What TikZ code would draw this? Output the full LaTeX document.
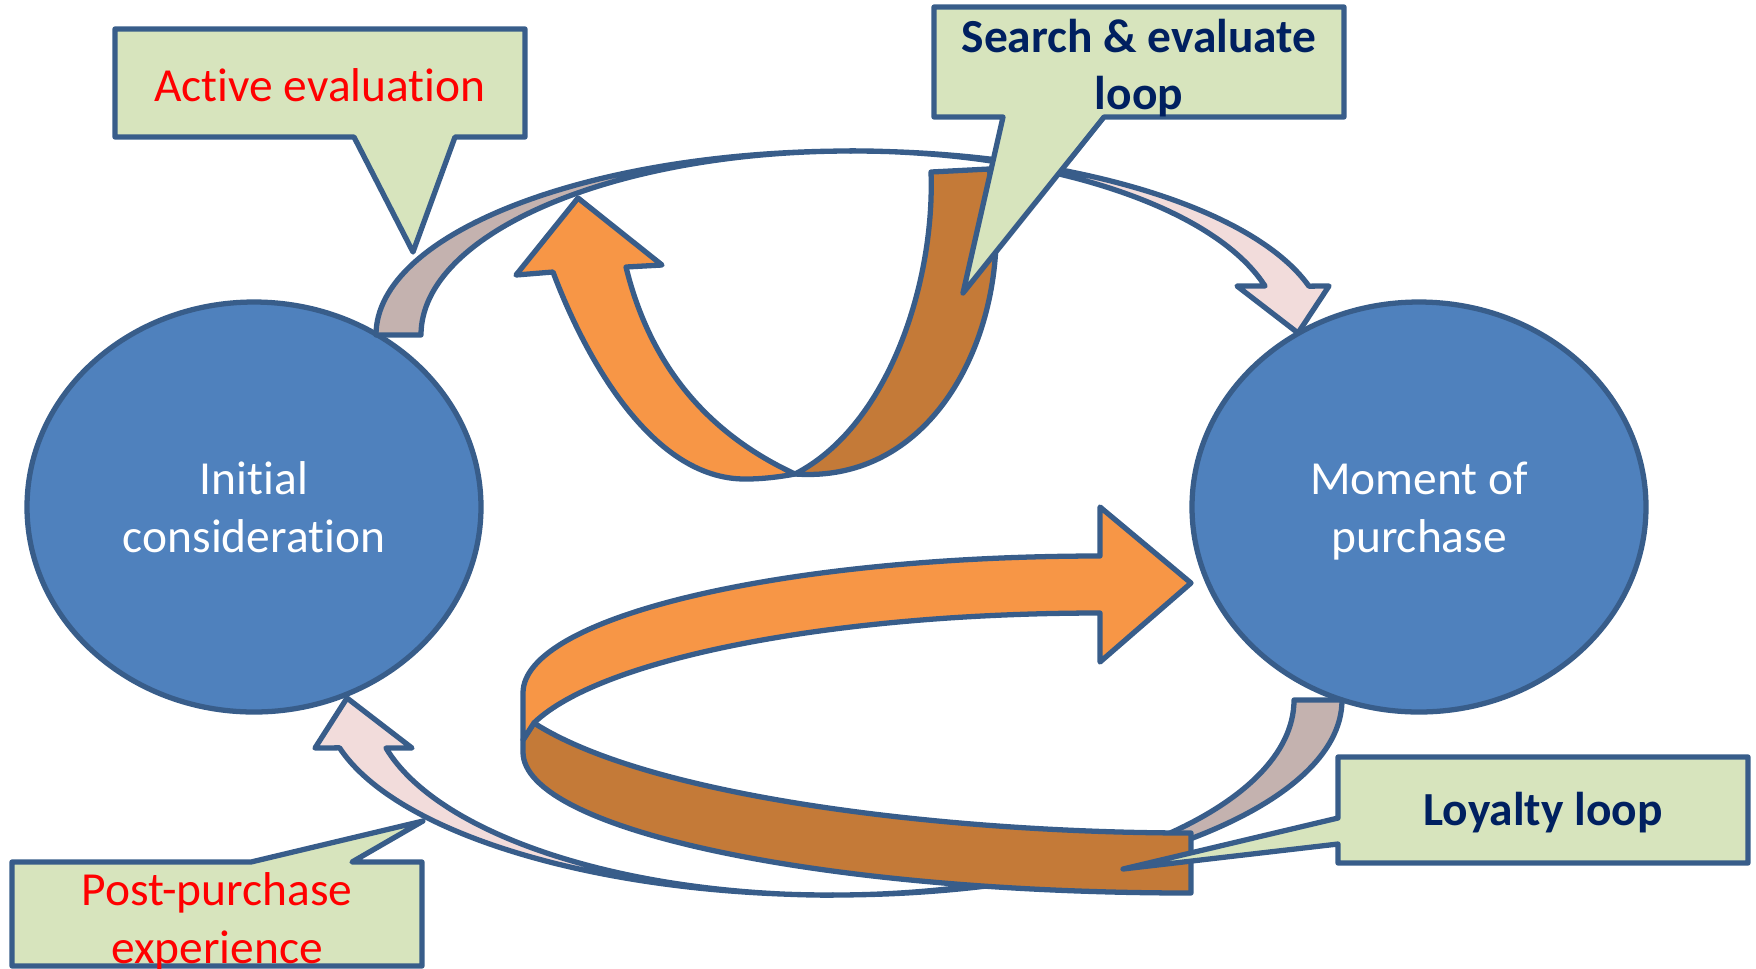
\documentclass[tikz,border=0pt]{standalone}
\usepackage{fontspec}
\setmainfont{Carlito}[Ligatures=NoCommon]
\usepackage{tikz}
\usetikzlibrary{shapes.geometric}

\definecolor{stageblue}{HTML}{4F81BD}
\definecolor{edgeblue}{HTML}{385D8A}
\definecolor{notegreen}{HTML}{D7E4BD}
\definecolor{lightorange}{HTML}{F79646}
\definecolor{darkorange}{HTML}{C47A38}
\definecolor{mauve}{HTML}{C4B2AF}
\definecolor{blush}{HTML}{F2DCDB}
\definecolor{navy}{HTML}{002060}

\tikzset{
  stage/.style={draw=edgeblue,line width=1.5pt,fill=stageblue,ellipse,
    minimum width=45.4mm,minimum height=41mm,text=white,align=center,
    text depth=2.2pt,font=\fontsize{13.5}{16.5}\selectfont},
  band/.style={draw=edgeblue,line width=1.5pt,line join=round},
  note/.style={draw=edgeblue,line width=1.5pt,fill=notegreen,line join=round},
  notetext/.style={align=center,font=\fontsize{13.5}{16.5}\selectfont},
  boldtext/.style={notetext,text=navy,font=\fontsize{13.5}{16}\selectfont\bfseries},
}

\begin{document}
\begin{tikzpicture}[x=0.1mm,y=-0.1mm]
\useasboundingbox (0,0) rectangle (1756,968);

\node[stage] (init) at (254,507) {Initial\strut\\consideration};
\node[stage] (buy) at (1419,507) {Moment of\strut\\purchase};

% active evaluation arc
\filldraw[band,fill=mauve] (376,335) arc[start angle=180,end angle=270,x radius=475,y radius=184]
  arc[start angle=270,end angle=180,x radius=430,y radius=184] -- cycle;
\filldraw[band,fill=blush] (851,151) arc[start angle=270,end angle=344.6,x radius=475,y radius=184]
  -- (1329,286) -- (1298,333) -- (1237,286) -- (1265,286)
  arc[start angle=344.6,end angle=270,x radius=430,y radius=184] -- cycle;

% post-purchase arc
\filldraw[band,fill=mauve] (1342,700) arc[start angle=0,end angle=90,x radius=509,y radius=195]
  arc[start angle=90,end angle=0,x radius=461,y radius=195] -- cycle;
\filldraw[band,fill=blush] (833,895) arc[start angle=90,end angle=165.8,x radius=509,y radius=195]
  -- (315,748) -- (347,698) -- (412,748) -- (386,748)
  arc[start angle=165.8,end angle=90,x radius=461,y radius=195] -- cycle;

% search & evaluate loop
\filldraw[band,fill=darkorange] (931,172) -- (989,169)
  .. controls (1020,300) and (950,485) .. (795,474)
  .. controls (890,425) and (935,280) .. (931,172) -- cycle;
\filldraw[band,fill=lightorange] (795,474)
  .. controls (779,477) and (762,479) .. (746,479)
  .. controls (650,480) and (583,352) .. (553,272)
  -- (516,275) -- (578,198) -- (662,265) -- (626,267)
  .. controls (648,357) and (700,430) .. (795,474) -- cycle;

% loyalty loop
\filldraw[band,fill=darkorange] (523,740) -- (534,723)
  .. controls (651,798) and (950,833) .. (1191,833) -- (1191,893)
  arc[start angle=90,end angle=180,x radius=668,y radius=141] -- cycle;
\filldraw[band,fill=lightorange] (523,693) arc[start angle=180,end angle=270,x radius=577,y radius=137]
  -- (1100,507) -- (1191,583) -- (1100,662) -- (1100,613)
  arc[start angle=270,end angle=194.6,x radius=585,y radius=147] -- (523,740) -- cycle;

% callouts
\filldraw[note] (115,29) -- (525,29) -- (525,137) -- (455,137) -- (413,252) -- (354,137) -- (115,137) -- cycle;
\node[notetext,text=red] (evalnote) at (320,85) {Active evaluation};

\filldraw[note] (934,7) -- (1344,7) -- (1344,117) -- (1104,117) -- (963,293) -- (1003,117) -- (934,117) -- cycle;
\node[boldtext] (searchnote) at (1139,68) {Search \& evaluate\\loop};

\filldraw[note] (1338,757) -- (1748,757) -- (1748,863) -- (1338,863) -- (1338,844) -- (1123,869) -- (1338,818) -- cycle;
\node[boldtext] (loyalnote) at (1543,813) {Loyalty loop};

\filldraw[note] (12,862) -- (251,862) -- (423,821) -- (352,862) -- (422,862) -- (422,966) -- (12,966) -- cycle;
\node[notetext,text=red] (postnote) at (217,922) {Post-purchase\\experience};
\end{tikzpicture}
\end{document}
